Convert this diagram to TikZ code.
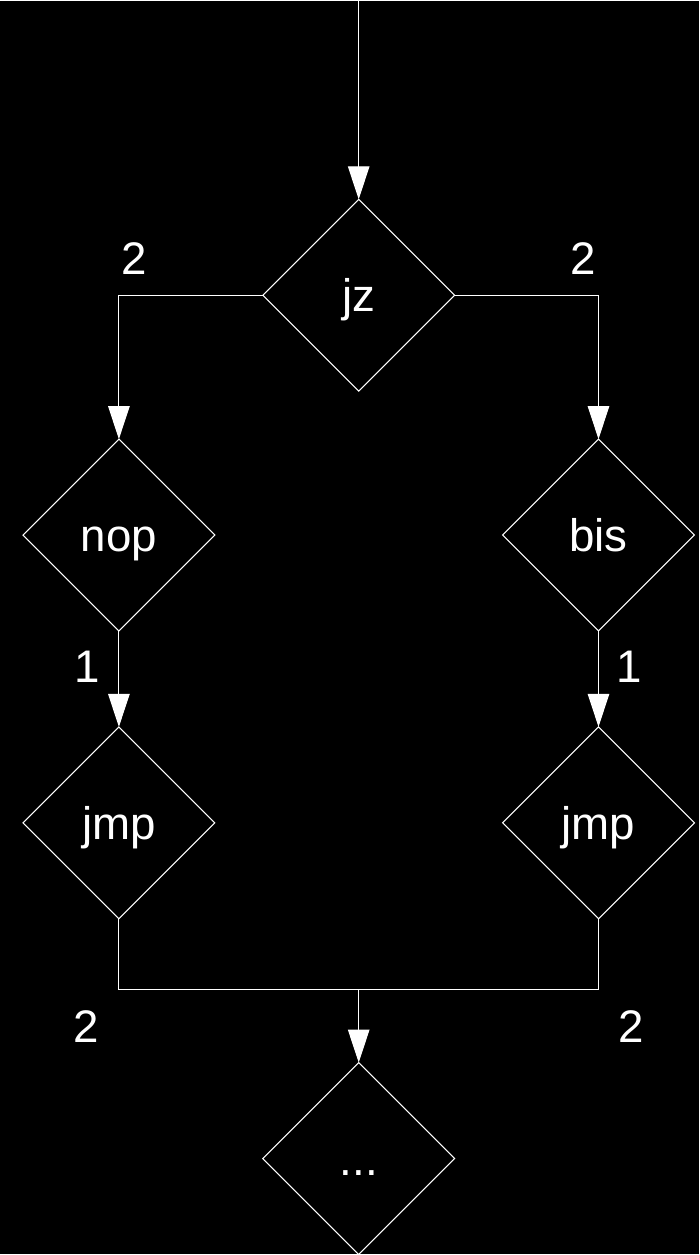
\documentclass[tikz,border=0pt]{standalone}
\usepackage{fontspec}
\setmainfont{Liberation Sans}
\usepackage{tikz}
\usetikzlibrary{arrows.meta, positioning, shapes.geometric}

\begin{document}
\begin{tikzpicture}[on grid, >={Triangle[width=0.43cm, length=0.66cm]},
  color=white, line width=0.6pt,
  op/.style={diamond, draw, aspect=1, minimum width=3.84cm, minimum height=3.84cm,
    inner sep=0pt, outer sep=0pt, text height=0.66cm, text depth=0pt,
    font=\fontsize{26}{31}\selectfont},
  lbl/.style={inner sep=0pt, font=\fontsize{26}{31}\selectfont}]
\fill[black] (0,0) rectangle (14,25.1);

\node[op] (jz) at (7.18,19.2) {jz};
\node[op, below left=4.8cm and 4.8cm of jz] (nop) {nop};
\node[op, below right=4.8cm and 4.8cm of jz] (bis) {bis};
\node[op, below=5.76cm of nop] (jmpl) {jmp};
\node[op, below=5.76cm of bis] (jmpr) {jmp};
\node[op, below=17.28cm of jz] (dots) {...};

\coordinate (entry) at (7.18,25.1);
\coordinate[below=13.9cm of jz] (merge);

% edge weights
\node[lbl] (wjzl) at (2.69,19.94) {2};
\node[lbl] (wjzr) at (11.67,19.94) {2};
\node[lbl] (wnop) at (1.75,11.76) {1};
\node[lbl] (wbis) at (12.6,11.76) {1};
\node[lbl] (wjl) at (1.73,4.56) {2};
\node[lbl] (wjr) at (12.63,4.56) {2};

\draw[->] (entry) -- (jz);
\draw[->] (jz.west) -| (nop.north);
\draw[->] (jz.east) -| (bis.north);
\draw[->] (nop) -- (jmpl);
\draw[->] (bis) -- (jmpr);
\draw (jmpl.south) |- (merge) -| (jmpr.south);
\draw[->] (merge) -- (dots);
\end{tikzpicture}
\end{document}
